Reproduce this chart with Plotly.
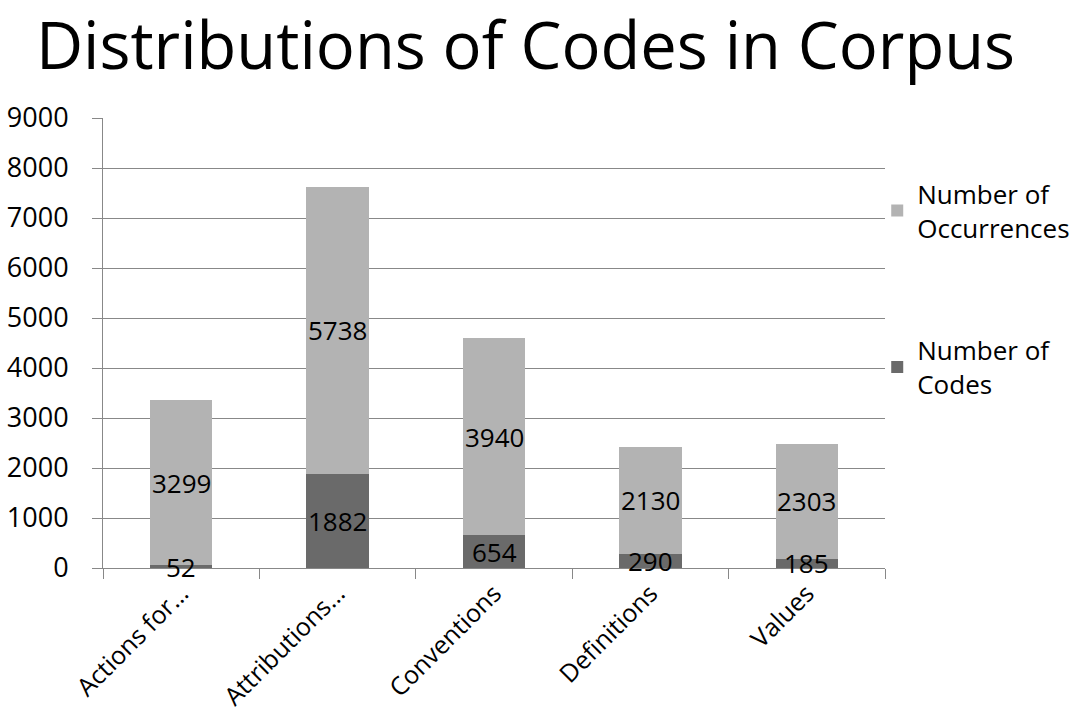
import plotly.graph_objects as go

categories = ["Actions for…", "Attributions…", "Conventions", "Definitions", "Values"]
codes = [52, 1882, 654, 290, 185]
occurrences = [3299, 5738, 3940, 2130, 2303]
y_ticks = [0, 1000, 2000, 3000, 4000, 5000, 6000, 7000, 8000, 9000]

FONT = "Open Sans"
LIGHT = "#b3b3b3"
DARK = "#6a6a6a"

fig = go.Figure()
fig.add_trace(go.Bar(
    x=categories, y=codes, name="Number of<br>Codes",
    marker=dict(color=DARK, line=dict(width=0)), legendgroup="codes", legendrank=2,
))
fig.add_trace(go.Bar(
    x=categories, y=occurrences, name="Number of<br>Occurrences",
    marker=dict(color=LIGHT, line=dict(width=0)), legendgroup="occ", legendrank=1,
))

# value labels centred in each stacked segment
for cat, c, o in zip(categories, codes, occurrences):
    fig.add_annotation(x=cat, y=c / 2, text=str(c), showarrow=False,
                       font=dict(family=FONT, size=26, color="#000"))
    fig.add_annotation(x=cat, y=c + o / 2, text=str(o), showarrow=False,
                       font=dict(family=FONT, size=26, color="#000"))

fig.update_layout(
    width=1079, height=715,
    barmode="stack", bargap=0.6,
    plot_bgcolor="white", paper_bgcolor="white",
    margin=dict(l=103, r=194, t=118, b=147, autoexpand=False),
    font=dict(family=FONT, color="#000"),
    title=dict(text="Distributions of Codes in Corpus", x=0.487, xanchor="center",
               y=0.935, yanchor="middle", font=dict(family=FONT, size=65, color="#000")),
    legend=dict(
        xref="container", yref="container", x=0.813, y=0.762,
        xanchor="left", yanchor="top",
        traceorder="grouped", tracegroupgap=86,
        font=dict(family=FONT, size=26, color="#000"),
        itemwidth=30, bgcolor="rgba(0,0,0,0)",
    ),
    xaxis=dict(
        showline=True, linecolor="#888", linewidth=1, automargin=False,
        ticks="outside", tickson="boundaries", ticklen=10, tickcolor="#888",
        tickangle=-45, tickfont=dict(family=FONT, size=25, color="#000"),
    ),
    yaxis=dict(
        range=[0, 9000], tickvals=y_ticks, automargin=False,
        showline=True, linecolor="#888", linewidth=1,
        showgrid=True, gridcolor="#888", gridwidth=1,
        ticks="outside", ticklen=10, tickcolor="#888",
        ticklabelstandoff=18,
        tickfont=dict(family=FONT, size=27, color="#000"),
        zeroline=False,
    ),
)

fig.write_html("out.html")
